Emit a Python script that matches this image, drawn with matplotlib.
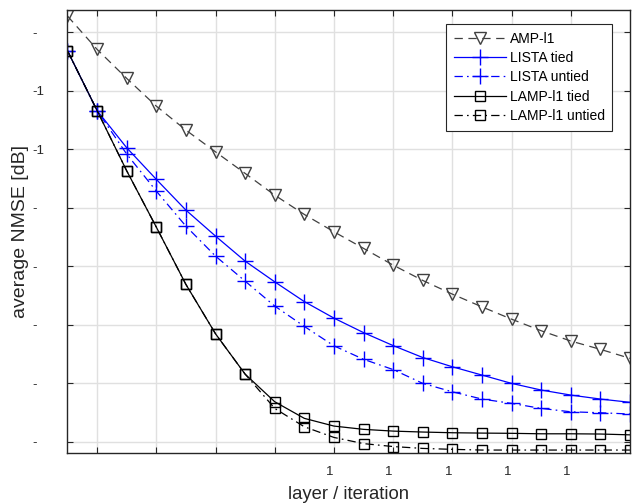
import numpy as np
import matplotlib
matplotlib.use('Agg')
import matplotlib.pyplot as plt
import matplotlib.transforms as mtransforms

plt.rcParams['font.family'] = ['Liberation Sans', 'DejaVu Sans']
plt.rcParams['lines.scale_dashes'] = False

# layer index
layers = np.arange(1, 21)

# average NMSE in dB
amp_l1 = [-3.6, -6.45, -8.93, -11.3, -13.35, -15.21, -17.05, -18.91, -20.56, -22.04,
          -23.46, -24.89, -26.2, -27.37, -28.46, -29.51, -30.5, -31.38, -32.09, -32.86]
lista_tied = [-6.57, -11.68, -14.86, -17.56, -20.19, -22.41, -24.55, -26.32, -28.01, -29.42,
              -30.66, -31.77, -32.79, -33.58, -34.29, -35.0, -35.57, -36.0, -36.34, -36.62]
lista_untied = [-6.57, -11.68, -15.4, -18.56, -21.56, -24.12, -26.26, -28.39, -30.13, -31.79,
                -32.94, -33.82, -35.0, -35.72, -36.34, -36.71, -37.14, -37.43, -37.51, -37.62]
lamp_tied = [-6.57, -11.68, -16.83, -21.64, -26.54, -30.76, -34.21, -36.57, -37.99, -38.65,
             -38.93, -39.08, -39.16, -39.22, -39.25, -39.27, -39.31, -39.31, -39.33, -39.4]
lamp_untied = [-6.57, -11.68, -16.83, -21.64, -26.54, -30.76, -34.21, -37.14, -38.71, -39.62,
               -40.15, -40.4, -40.56, -40.64, -40.7, -40.7, -40.7, -40.7, -40.7, -40.7]

xticks = [2, 4, 6, 8, 10, 12, 14, 16, 18]
xticklabels = ['', '', '', '', '1', '1', '1', '1', '1']
yticks = [-40, -35, -30, -25, -20, -15, -10, -5]
yticklabels = ['-', '-', '-', '-', '-', '-1', '-1', '-']

fig = plt.figure(figsize=(6.44, 5.04), dpi=100)
ax = fig.add_axes([0.1048, 0.101, 0.8734, 0.879])

dash = (0, (6, 4))
dashdot = (0, (6, 3, 1.2, 3))
lw = 0.9

ax.plot(layers, amp_l1, color='#404040', ls=dash, lw=lw, marker='v', ms=8,
        mfc='none', mec='#404040', mew=1.0, label='AMP-l1')
ax.plot(layers, lista_tied, color='blue', ls='-', lw=lw, marker='+', ms=11,
        mew=1.0, label='LISTA tied')
ax.plot(layers, lista_untied, color='blue', ls=dashdot, lw=lw, marker='+', ms=11,
        mew=1.0, label='LISTA untied')
ax.plot(layers, lamp_tied, color='black', ls='-', lw=lw, marker='s', ms=7,
        mfc='none', mec='black', mew=1.0, label='LAMP-l1 tied')
ax.plot(layers, lamp_untied, color='black', ls=dashdot, lw=lw, marker='s', ms=7,
        mfc='none', mec='black', mew=1.0, label='LAMP-l1 untied')

ax.set_xlim(1, 20)
ax.set_ylim(-40.96, -3.09)
ax.set_xticks(xticks)
ax.set_xticklabels(xticklabels)
ax.set_yticks(yticks)
ax.set_yticklabels(yticklabels)

ax.grid(True, color='#e0e0e0', lw=1.0)
ax.set_axisbelow(True)
for s in ax.spines.values():
    s.set_color('#262626')
    s.set_linewidth(1.0)
ax.tick_params(direction='in', length=4, width=0.8, top=True, right=True,
               colors='#262626', labelsize=9.5)
ax.tick_params(axis='x', pad=9)
ax.tick_params(axis='y', pad=25)
for lab in ax.get_yticklabels():
    lab.set_horizontalalignment('left')
off = mtransforms.ScaledTranslation(-4 / 100, 0, fig.dpi_scale_trans)
for lab in ax.get_xticklabels():
    lab.set_transform(lab.get_transform() + off)

ax.set_xlabel('layer / iteration', fontsize=13.3, color='#262626', labelpad=6)
ax.set_ylabel('average NMSE [dB]', fontsize=14, color='#262626', labelpad=3)

leg = ax.legend(loc='upper right', bbox_to_anchor=(0.981, 0.984), fontsize=10,
                handlelength=3.7, labelspacing=0.38, fancybox=False,
                framealpha=1, edgecolor='#262626', borderpad=0.55, handletextpad=0.3)
leg.get_frame().set_linewidth(0.8)

fig.savefig('out.png', dpi=100)
